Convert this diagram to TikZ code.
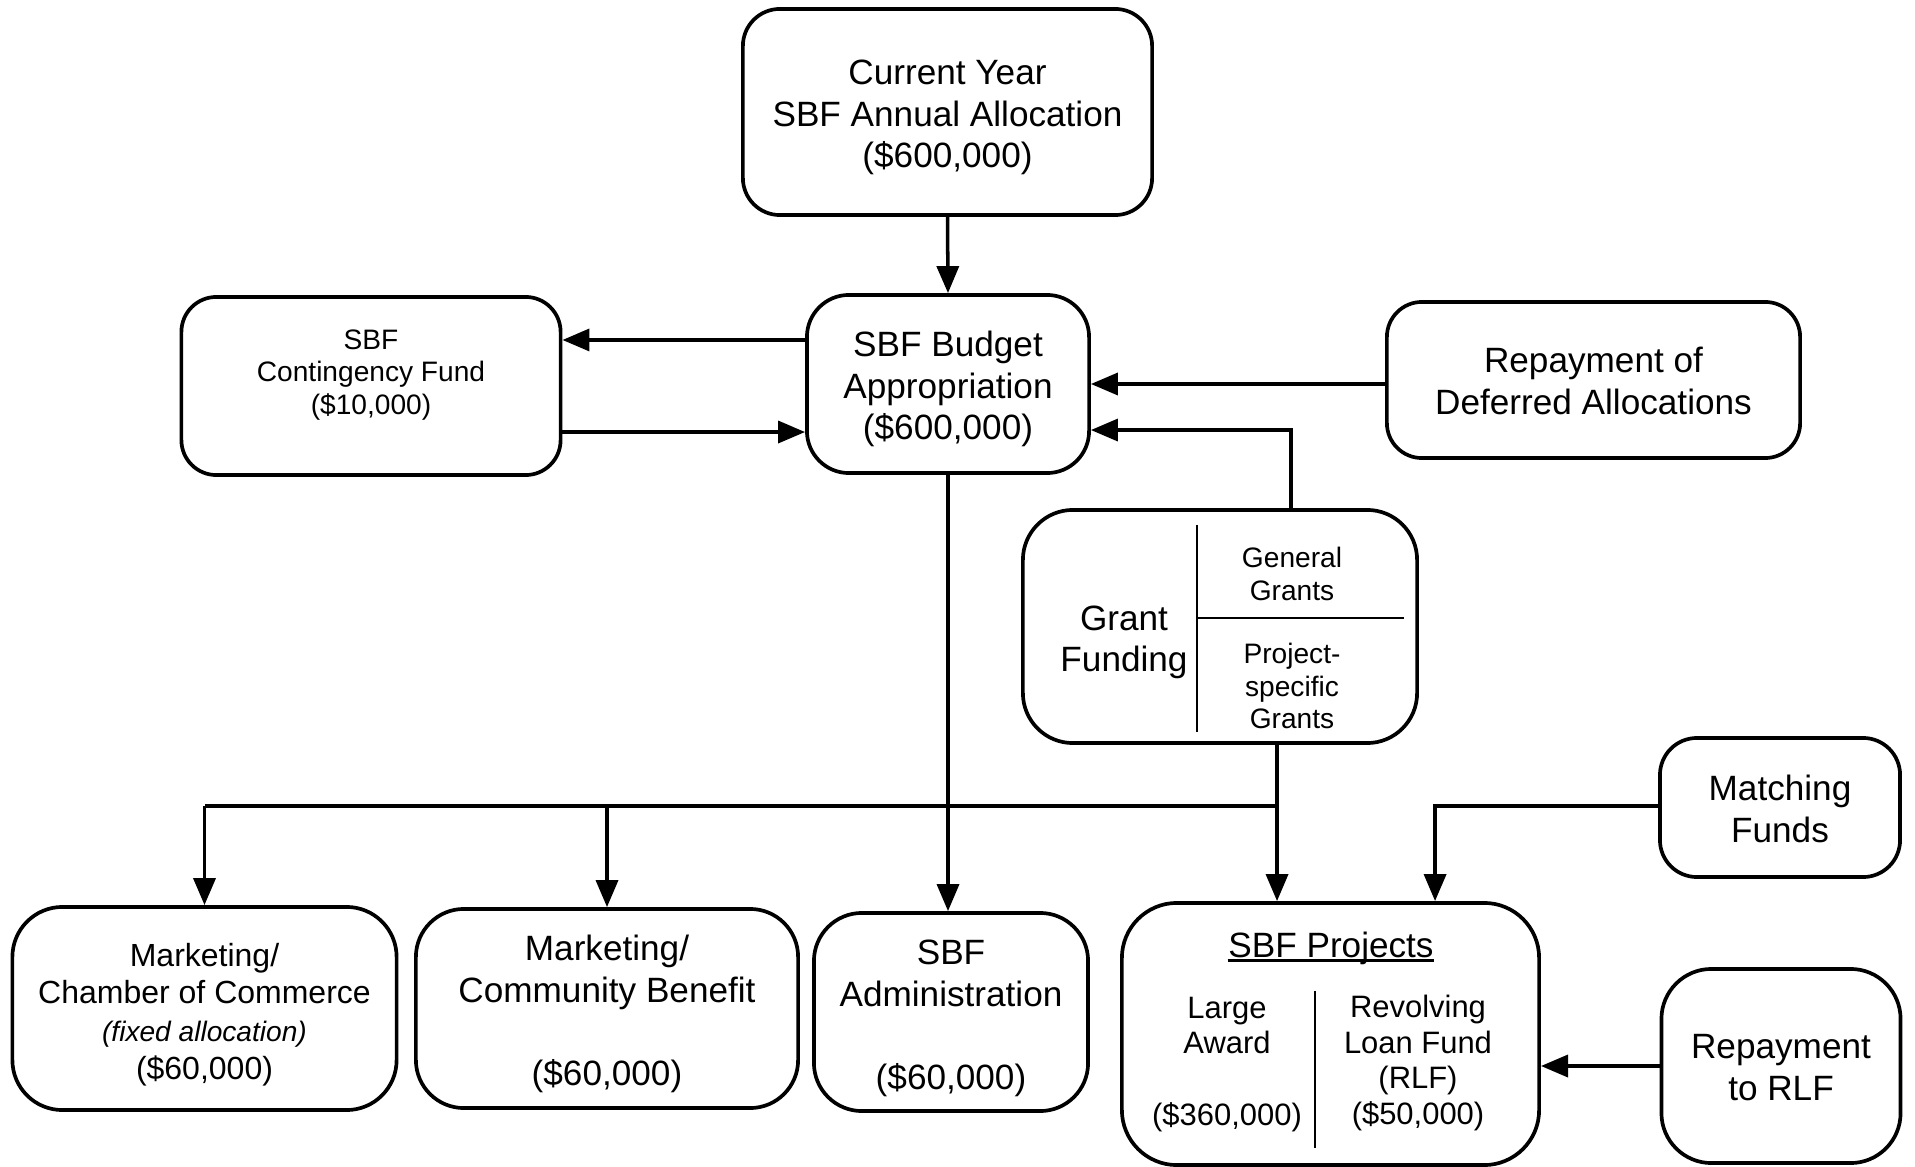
\documentclass[tikz,border=0pt]{standalone}
\usepackage{fontspec}
\setmainfont{Liberation Sans}
\usetikzlibrary{arrows.meta}
\begin{document}
\begin{tikzpicture}[x=0.01cm,y=-0.01cm,
  box/.style={draw, line width=1.05pt, inner sep=0pt},
  txt/.style={align=center, inner sep=0pt, font=\fontsize{10}{11.8}\selectfont},
  small/.style={align=center, inner sep=0pt, font=\fontsize{8}{9.3}\selectfont},
  mid/.style={align=center, inner sep=0pt, font=\fontsize{8.8}{10.2}\selectfont},
  arr/.style={-{Triangle[length=0.27cm,width=0.22cm]}, line width=1pt},
  divider/.style={line width=0.6pt}]
\useasboundingbox (0,0) rectangle (1915,1167);

% boxes
\node[box, rounded corners=0.37cm, minimum width=4.09cm, minimum height=2.06cm] (A) at (947.5,112) {};
\node[txt] (At) at (947.5,117.5) {Current Year\\SBF Annual Allocation\\(\$600,000)};

\node[box, rounded corners=0.42cm, minimum width=2.82cm, minimum height=1.78cm] (B) at (948,384) {};
\node[txt] (Bt) at (948,389) {SBF Budget\\Appropriation\\(\$600,000)};

\node[box, rounded corners=0.35cm, minimum width=3.79cm, minimum height=1.78cm] (C) at (371,386) {};
\node[small] (Ct) at (371,375) {SBF\\Contingency Fund\\(\$10,000)};

\node[box, rounded corners=0.35cm, minimum width=4.13cm, minimum height=1.56cm] (D) at (1593.5,380) {};
\node[txt] (Dt) at (1593.5,381) {Repayment of\\Deferred Allocations};

\node[box, rounded corners=0.5cm, minimum width=3.94cm, minimum height=2.33cm] (G) at (1220,626.5) {};
\node[txt] (Gt) at (1124,642.5) {Grant\\Funding};
\node[small] (Gg) at (1292,574) {General\\Grants};
\node[small] (Gp) at (1292,686) {Project-\\specific\\Grants};
\draw[divider] (1197,525) -- (1197,732);
\draw[divider] (1197,618) -- (1404,618);

\node[box, rounded corners=0.37cm, minimum width=2.40cm, minimum height=1.39cm] (M) at (1780,807.5) {};
\node[txt] (Mt) at (1780,809) {Matching\\Funds};

\node[box, rounded corners=0.5cm, minimum width=2.39cm, minimum height=1.94cm] (R) at (1781,1066) {};
\node[txt] (Rt) at (1781,1067.5) {Repayment\\to RLF};

\node[box, rounded corners=0.5cm, minimum width=3.84cm, minimum height=2.03cm] (K1) at (204.5,1008.5) {};
\node[txt, font=\fontsize{9.1}{10.7}\selectfont] (K1t) at (204.5,1014.5)
  {Marketing/\\Chamber of Commerce\\{\fontsize{8}{9}\selectfont\itshape(fixed allocation)}\\(\$60,000)};

\node[box, rounded corners=0.48cm, minimum width=3.82cm, minimum height=1.99cm] (K2) at (607,1008.5) {};
\node[txt] (K2t) at (607,1014) {Marketing/\\Community Benefit\\\strut\\(\$60,000)};

\node[box, rounded corners=0.48cm, minimum width=2.74cm, minimum height=1.98cm] (K3) at (951,1012) {};
\node[txt] (K3t) at (951,1018.5) {SBF\\Administration\\\strut\\(\$60,000)};

\node[box, rounded corners=0.55cm, minimum width=4.17cm, minimum height=2.62cm] (P) at (1330.5,1034) {};
\node[txt, anchor=base] (Pt) at (1331,957) {SBF Projects};
\draw[line width=0.6pt] ([yshift=-0.035cm]Pt.base west) -- ([yshift=-0.035cm]Pt.base east);
\draw[divider] (1315,991) -- (1315,1148);
\node[mid] (Pl) at (1227,1025.5) {Large\\Award};
\node[mid] (Pa) at (1227,1117.5) {(\$360,000)};
\node[mid] (Pr) at (1418,1063) {Revolving\\Loan Fund\\(RLF)\\(\$50,000)};

% connectors
\draw[arr] (A.south) -- (B.north);
\draw[arr] ([yshift=0.44cm]B.west) -- ([yshift=0.44cm]B.west -| C.east);
\draw[arr] ([yshift=-0.46cm]C.east) -- ([yshift=-0.46cm]C.east -| B.west);
\draw[arr] (D.west |- B.east) -- (B.east);
\draw[arr] ([xshift=0.71cm]G.north) |- ([yshift=-0.46cm]B.east);
\draw[arr] (B.south) -- (B.south |- K3.north);

\coordinate (J) at (1277,806);
\draw[arr] ([xshift=0.57cm]G.south) -- ([xshift=0.57cm]G.south |- P.north);
\draw[line width=1pt] (J) -- (J -| K1.north);
\draw[arr] (J -| K1.north) -- (K1.north);
\draw[arr] (J -| K2.north) -- (K2.north);
\draw[arr] (M.west |- J) -| ([xshift=1.045cm]P.north);
\draw[arr] (R.west) -- (R.west -| P.east);
\end{tikzpicture}
\end{document}
